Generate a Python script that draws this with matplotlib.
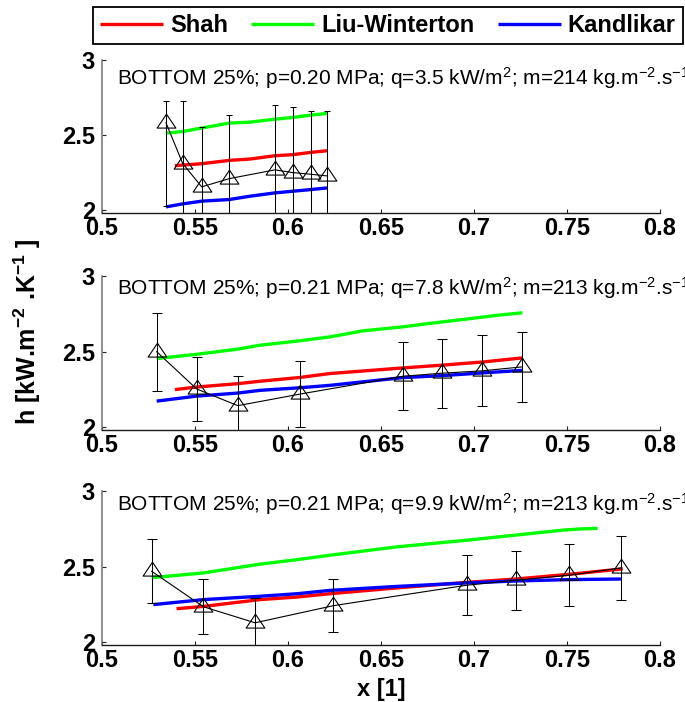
import numpy as np
import matplotlib
matplotlib.use('Agg')
import matplotlib.pyplot as plt
from matplotlib.path import Path

plt.rcParams['font.family'] = ['Liberation Sans', 'DejaVu Sans']
plt.rcParams['mathtext.default'] = 'regular'

# ---------------- data ----------------
series_names = ['Shah', 'Liu-Winterton', 'Kandlikar']
series_colors = ['#ff0000', '#00ff00', '#0000ff']

x_ticks = [0.5, 0.55, 0.6, 0.65, 0.7, 0.75, 0.8]
x_tick_labels = ['0.5', '0.55', '0.6', '0.65', '0.7', '0.75', '0.8']
y_ticks = [2.0, 2.5, 3.0]
y_tick_labels = ['2', '2.5', '3']

panel_titles = [
    'BOTTOM 25%; p=0.20 MPa; q=3.5 kW/m$^{2}$; m=214 kg.m$^{-2}$.s$^{-1}$',
    'BOTTOM 25%; p=0.21 MPa; q=7.8 kW/m$^{2}$; m=213 kg.m$^{-2}$.s$^{-1}$',
    'BOTTOM 25%; p=0.21 MPa; q=9.9 kW/m$^{2}$; m=213 kg.m$^{-2}$.s$^{-1}$',
]

# measured heat transfer coefficient (kW/m2K) with error bounds
x_exp_1 = [0.5344, 0.5434, 0.5536, 0.5685, 0.5930, 0.6025, 0.6122, 0.6208]
h_exp_1 = [2.583, 2.312, 2.157, 2.212, 2.270, 2.252, 2.241, 2.230]
err_lo_1 = [0.550, 0.416, 0.401, 0.424, 0.434, 0.435, 0.423, 0.428]
err_hi_1 = [0.145, 0.416, 0.401, 0.424, 0.434, 0.435, 0.423, 0.428]

x_exp_2 = [0.5294, 0.5509, 0.5730, 0.6063, 0.6617, 0.6826, 0.7045, 0.7260]
h_exp_2 = [2.500, 2.254, 2.144, 2.220, 2.338, 2.358, 2.374, 2.400]
err_lo_2 = [0.258, 0.213, 0.194, 0.218, 0.226, 0.228, 0.235, 0.232]
err_hi_2 = [0.258, 0.213, 0.194, 0.218, 0.226, 0.228, 0.235, 0.232]

x_exp_3 = [0.5267, 0.5545, 0.5823, 0.6244, 0.6961, 0.7226, 0.7512, 0.7789]
h_exp_3 = [2.470, 2.236, 2.130, 2.243, 2.378, 2.411, 2.444, 2.492]
err_lo_3 = [0.210, 0.182, 0.166, 0.175, 0.199, 0.195, 0.205, 0.209]
err_hi_3 = [0.210, 0.182, 0.166, 0.175, 0.199, 0.195, 0.205, 0.209]

# correlation predictions
x_shah_1 = [0.5392, 0.5434, 0.5536, 0.5685, 0.5796, 0.5930, 0.6025, 0.6122, 0.6210]
h_shah_1 = [2.298, 2.302, 2.311, 2.333, 2.342, 2.364, 2.371, 2.386, 2.397]
x_liu_1 = [0.5344, 0.5434, 0.5536, 0.5685, 0.5796, 0.5930, 0.6025, 0.6122, 0.6210]
h_liu_1 = [2.514, 2.525, 2.548, 2.581, 2.587, 2.607, 2.618, 2.634, 2.645]
x_kan_1 = [0.5344, 0.5434, 0.5536, 0.5685, 0.5796, 0.5930, 0.6025, 0.6122, 0.6210]
h_kan_1 = [2.024, 2.044, 2.062, 2.073, 2.095, 2.117, 2.128, 2.139, 2.150]

x_shah_2 = [0.5392, 0.5509, 0.5730, 0.5849, 0.6063, 0.6226, 0.6617, 0.6826, 0.7045, 0.7260]
h_shah_2 = [2.250, 2.267, 2.289, 2.305, 2.330, 2.356, 2.393, 2.411, 2.432, 2.459]
x_liu_2 = [0.5294, 0.5509, 0.5730, 0.5849, 0.6063, 0.6226, 0.6405, 0.6617, 0.6763, 0.6943, 0.7122, 0.7260]
h_liu_2 = [2.455, 2.483, 2.517, 2.543, 2.572, 2.598, 2.638, 2.664, 2.687, 2.713, 2.740, 2.757]
x_kan_2 = [0.5294, 0.5509, 0.5730, 0.5849, 0.6063, 0.6226, 0.6617, 0.6826, 0.7045, 0.7260]
h_kan_2 = [2.174, 2.207, 2.227, 2.245, 2.262, 2.278, 2.329, 2.342, 2.360, 2.377]

x_shah_3 = [0.5401, 0.5545, 0.5849, 0.6050, 0.6226, 0.6584, 0.6961, 0.7226, 0.7512, 0.7800]
h_shah_3 = [2.223, 2.238, 2.283, 2.300, 2.322, 2.360, 2.397, 2.419, 2.450, 2.486]
x_liu_3 = [0.5267, 0.5545, 0.5849, 0.6050, 0.6226, 0.6584, 0.6961, 0.7226, 0.7480, 0.7580, 0.7665]
h_liu_3 = [2.428, 2.459, 2.517, 2.547, 2.576, 2.631, 2.675, 2.709, 2.742, 2.750, 2.753]
x_kan_3 = [0.5276, 0.5545, 0.5849, 0.6050, 0.6226, 0.6584, 0.6961, 0.7226, 0.7512, 0.7790]
h_kan_3 = [2.250, 2.283, 2.305, 2.322, 2.344, 2.370, 2.393, 2.406, 2.415, 2.419]

panels = [
    dict(x=x_exp_1, h=h_exp_1, lo=err_lo_1, hi=err_hi_1,
         models=[(x_shah_1, h_shah_1), (x_liu_1, h_liu_1), (x_kan_1, h_kan_1)]),
    dict(x=x_exp_2, h=h_exp_2, lo=err_lo_2, hi=err_hi_2,
         models=[(x_shah_2, h_shah_2), (x_liu_2, h_liu_2), (x_kan_2, h_kan_2)]),
    dict(x=x_exp_3, h=h_exp_3, lo=err_lo_3, hi=err_hi_3,
         models=[(x_shah_3, h_shah_3), (x_liu_3, h_liu_3), (x_kan_3, h_kan_3)]),
]

# ---------------- layout ----------------
fig = plt.figure(figsize=(6.85, 7.02), dpi=100)
rects = [(0.1489, 0.6966, 0.8146, 0.2179),
         (0.1489, 0.3875, 0.8146, 0.2194),
         (0.1489, 0.0812, 0.8146, 0.2194)]
title_y = [0.841, 0.877, 0.872]
cap_sizes = [2.2, 3.6, 3.6]

# open triangle centred on its centroid
tri = Path([(0, 0.89), (-0.9, -0.44), (0.9, -0.44), (0, 0.89)],
           [Path.MOVETO, Path.LINETO, Path.LINETO, Path.CLOSEPOLY])

handles = []
for i, (rect, p) in enumerate(zip(rects, panels)):
    ax = fig.add_axes(rect)
    for (mx, mh), col, name in zip(p['models'], series_colors, series_names):
        ln, = ax.plot(mx, mh, color=col, lw=2.4, solid_capstyle='butt', label=name)
        if i == 0:
            handles.append(ln)
    ax.errorbar(p['x'], p['h'], yerr=[p['lo'], p['hi']], fmt='none', ecolor='k',
                elinewidth=0.75, capsize=cap_sizes[i], capthick=0.75)
    ax.plot(p['x'], p['h'], '-', color='k', lw=0.8, marker=tri, ms=13.5,
            mfc='none', mec='k', mew=0.8)

    ax.set_xlim(0.5, 0.8)
    ax.set_ylim(2 - 2.5 / 151, 3.0)
    ax.set_xticks(x_ticks)
    ax.set_xticklabels(x_tick_labels, fontsize=17, fontweight='bold')
    ax.set_yticks(y_ticks)
    ax.set_yticklabels(y_tick_labels, fontsize=17, fontweight='bold')
    ax.tick_params(axis='both', direction='in', length=3, width=0.8, colors='#222222',
                   labelcolor='k')
    ax.tick_params(axis='x', pad=3)
    ax.tick_params(axis='y', pad=5)
    ax.spines['top'].set_visible(False)
    ax.spines['right'].set_visible(False)
    ax.spines['left'].set_color('#707070')
    ax.spines['left'].set_linewidth(1.1)
    ax.spines['bottom'].set_color('#1a1a1a')
    ax.spines['bottom'].set_linewidth(1.0)
    ax.patch.set_alpha(0)

    ax.text(0.0263, title_y[i], panel_titles[i], transform=ax.transAxes,
            fontsize=15, ha='left', va='baseline', color='k', clip_on=False)

    if i == 2:
        ax.set_xlabel('x [1]', fontsize=17, fontweight='bold', labelpad=4)

fig.text(0.0394, 0.527, 'h [kW.m$^{-2}$ .K$^{-1}$ ]', rotation=90, fontsize=18,
         fontweight='bold', ha='center', va='center')

leg = fig.legend(handles=handles, labels=series_names, loc='upper left',
                 bbox_to_anchor=(0.1358, 0.9305, 0.861, 0.0595), mode='expand',
                 ncol=3, borderaxespad=0, frameon=True, fancybox=False,
                 handlelength=2.67, handletextpad=0.3, columnspacing=0.76,
                 borderpad=0.3, prop={'size': 17, 'weight': 'bold'})
leg.get_frame().set_edgecolor('k')
leg.get_frame().set_linewidth(1.3)
leg.get_frame().set_alpha(1)

fig.savefig('out.png', dpi=100)
